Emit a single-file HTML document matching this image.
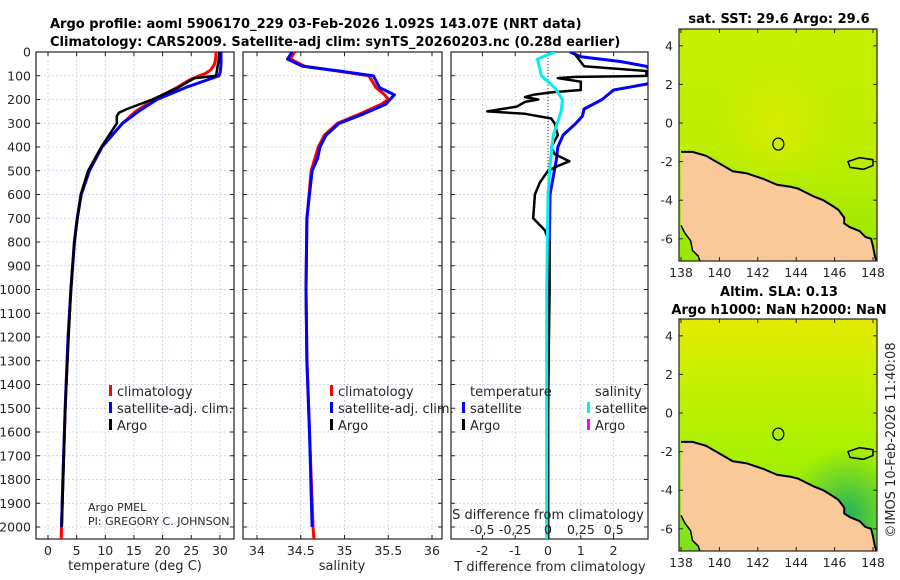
<!DOCTYPE html>
<html><head><meta charset="utf-8">
<style>
html,body{margin:0;padding:0;background:#fff;}
svg{display:block;font-family:"DejaVu Sans","Liberation Sans",sans-serif;}
</style></head>
<body>
<svg id="fig" width="900" height="580" viewBox="0 0 900 580" xmlns="http://www.w3.org/2000/svg">
<defs>
<clipPath id="c1"><rect x="36" y="52" width="198" height="487"/></clipPath>
<clipPath id="c2"><rect x="243" y="52" width="199" height="487"/></clipPath>
<clipPath id="c3"><rect x="451" y="52" width="197" height="487"/></clipPath>
<clipPath id="cm1"><rect x="679" y="29" width="198" height="232"/></clipPath>
<clipPath id="cm2"><rect x="679" y="319" width="198" height="232"/></clipPath>
<linearGradient id="sstg" x1="0" y1="0" x2="0" y2="1">
<stop offset="0" stop-color="#c6f000"/><stop offset="0.5" stop-color="#c0ee00"/><stop offset="1" stop-color="#96e800"/></linearGradient>
<radialGradient id="sstw" cx="0.5" cy="0.4" r="0.3"><stop offset="0" stop-color="#dcec00" stop-opacity="0.8"/><stop offset="1" stop-color="#dcec00" stop-opacity="0"/></radialGradient>
<linearGradient id="slag" x1="0" y1="0" x2="0" y2="1">
<stop offset="0" stop-color="#e4ea00"/><stop offset="0.25" stop-color="#c8f000"/><stop offset="0.6" stop-color="#a6f000"/><stop offset="1" stop-color="#80e020"/></linearGradient>
<radialGradient id="slad" cx="0.85" cy="0.85" r="0.3"><stop offset="0" stop-color="#20b060"/><stop offset="1" stop-color="#40c040" stop-opacity="0"/></radialGradient>
</defs>
<g id="root"></g>
</svg>
<script>
// ---- data ----
const depthT = [0,20,50,75,90,100,120,150,200,250,300,400,500,600,700,800,1000,1200,1500,1800,2000,2050];
const tempClim = [29.3,29.3,29.1,28.4,27.5,26.4,24.5,22.5,18.5,15.3,13.0,9.4,7.2,5.8,5.1,4.6,4.0,3.5,3.0,2.6,2.35,2.3];
const depthTS = [0,20,50,75,90,100,120,150,200,250,300,400,500,600,700,800,1000,1200,1500,1800,2000];
const tempSat = [30.2,30.2,30.2,30.1,30.0,29.8,27.5,24.0,19.0,15.8,13.0,9.4,7.2,5.8,5.1,4.6,4.0,3.5,3.0,2.6,2.35];
const depthA = [0,30,60,90,100,110,150,200,240,255,270,300,400,500,600,800,1000,1500,2000];
const tempArgo = [29.9,29.8,29.6,29.4,29.3,25.6,22.7,18.2,13.8,12.4,12.0,12.0,9.3,7.0,5.7,4.6,4.0,3.0,2.4];
const depthS = [0,30,60,80,100,150,180,200,220,260,300,350,400,450,500,700,1000,1300,1600,2000,2050];
const salClim = [34.43,34.38,34.55,34.92,35.28,35.36,35.46,35.50,35.42,35.18,34.92,34.77,34.7,34.66,34.62,34.57,34.56,34.57,34.6,34.64,34.65];
const depthSS2 = [0,30,60,80,100,150,180,200,220,260,300,350,400,450,500,700,1000,1300,1600,2000];
const salSat = [34.40,34.35,34.52,34.94,35.33,35.40,35.57,35.52,35.47,35.22,34.94,34.79,34.72,34.69,34.63,34.57,34.56,34.57,34.6,34.63];
const depthD = [0,20,40,60,100,130,160,200,240,270,300,350,400,450,600,1000,1500,2050];
const dTsat = [0.67,1.0,2.2,3.0,3.3,3.2,2.0,1.65,1.1,1.05,0.85,0.46,0.3,0.26,0.06,0.02,0.0,0.0];
const depthDA = [5,60,80,95,100,105,110,125,160,170,180,190,200,210,230,250,260,280,300,350,400,430,460,480,500,550,600,700,750,800,1000,1500,2050];
const dTargo = [0.8,1.1,3.0,3.0,3.3,0.85,0.3,1.0,1.0,0.1,-0.45,-0.7,-0.3,-0.7,-0.95,-1.85,-0.7,0.1,0.2,0.3,0.1,0.2,0.65,0.3,0.0,-0.25,-0.4,-0.45,-0.1,0.05,0.05,0.0,0.0];
const depthSS = [0,30,100,150,200,250,300,350,450,600,1000,1500,2050];
const dSsat = [0.05,-0.08,-0.05,0.05,0.11,0.1,0.07,0.04,0.02,0.0,-0.01,-0.01,-0.01];
const depthTicks = [0,100,200,300,400,500,600,700,800,900,1000,1100,1200,1300,1400,1500,1600,1700,1800,1900,2000];
const tTicks = [0,5,10,15,20,25,30];
const sTicks = [34,34.5,35,35.5,36];
const dtTicks = [-2,-1,0,1,2];
const dsTicks = [-0.5,-0.25,0,0.25,0.5];
const dsTickLabels = ["-0,5","-0,25","0","0,25","0,5"];
const lonTicks = [138,140,142,144,146,148];
const latTicks = [4,2,0,-2,-4,-6];

// ---- scales ----
const yD = d => 52 + d*0.2375;
const xT = t => 48 + t*5.73;
const xS = s => 257 + (s-34)*87.5;
const xDT = t => 548 + t*32.8;
const xDS = s => 548 + s*131.5;
const xLon = l => 681 + (l-138)*19.2;
const yLat1 = l => 123 - l*19.3;
const yLat2 = l => 413 - l*19.3;

const NS="http://www.w3.org/2000/svg";
const root=document.getElementById('root');
function el(tag,attrs,parent,txt){const e=document.createElementNS(NS,tag);for(const k in attrs)e.setAttribute(k,attrs[k]);if(txt!==undefined)e.textContent=txt;(parent||root).appendChild(e);return e;}

function panel(x0,x1,clip,xs,ticks,labels,name,showY){
  const g=el('g',{});
  
  
  el('rect',{x:x0,y:52,width:x1-x0,height:487,fill:'#fff'},g);
  depthTicks.forEach(d=>{el('line',{x1:x0,x2:x1,y1:yD(d),y2:yD(d),stroke:'#c8cce8','stroke-dasharray':'2,2','stroke-width':0.8},g);
    el('line',{x1:x0,x2:x0+4,y1:yD(d),y2:yD(d),stroke:'#222'},g);el('line',{x1:x1-4,x2:x1,y1:yD(d),y2:yD(d),stroke:'#222'},g);});
  ticks.forEach((t,i)=>{const x=xs(t);el('line',{x1:x,x2:x,y1:52,y2:539,stroke:'#c8cce8','stroke-dasharray':'2,2','stroke-width':0.8},g);
    el('line',{x1:x,x2:x,y1:535,y2:539,stroke:'#222'},g);el('line',{x1:x,x2:x,y1:52,y2:56,stroke:'#222'},g);
    const tl=el('text',{x:x,y:555,'font-size':12.5,'text-anchor':'middle',fill:'#262626'},g,labels[i]);
    
    });
  el('rect',{x:x0,y:52,width:x1-x0,height:487,fill:'none',stroke:'#222','stroke-width':1.2},g);
  if(showY){depthTicks.forEach(d=>{const t=el('text',{x:31,y:yD(d)+4.5,'font-size':12.5,'text-anchor':'end',fill:'#262626'},g,String(d));
    
    });}
  return g;
}
function line(xs,ys,fx,col,w,clip,name){
  const pts=xs.map((v,i)=>fx(v).toFixed(1)+','+yD(ys[i]).toFixed(1)).join(' ');
  const p=el('polyline',{points:pts,fill:'none',stroke:col,'stroke-width':w,'stroke-linejoin':'round','clip-path':'url(#'+clip+')'});
  
  
  return p;
}
function txt(x,y,s,size,opts,name){const t=el('text',Object.assign({x:x,y:y,'font-size':size,fill:'#262626'},opts||{}),root,s);
  
  return t;}

// titles
txt(50,28,'Argo profile: aoml 5906170_229 03-Feb-2026 1.092S 143.07E (NRT data)',13,{'font-weight':'bold',fill:'#000'},'title-line-1');
txt(50,46,'Climatology: CARS2009. Satellite-adj clim: synTS_20260203.nc (0.28d earlier)',13,{'font-weight':'bold',fill:'#000'},'title-line-2');

// panel 1
panel(36,234,'c1',xT,tTicks,tTicks.map(String),'temperature-panel',true);
line(tempClim,depthT,xT,'#ff0000',3,'c1','temp-climatology-line');
line(tempSat,depthTS,xT,'#0000ff',3,'c1','temp-satellite-line');
line(tempArgo,depthA,xT,'#000',2.5,'c1','temp-argo-line');
txt(135,570,'temperature (deg C)',13,{'text-anchor':'middle'},'x-axis-title-temperature');
txt(88,511,'Argo PMEL',11,{},'argo-pmel-note');
txt(88,525,'PI: GREGORY C. JOHNSON',11,{},'pi-note');

// panel 2
panel(243,442,'c2',xS,sTicks,sTicks.map(String),'salinity-panel',false);
line(salClim,depthS,xS,'#ff0000',3,'c2','sal-climatology-line');
line(salSat,depthSS2,xS,'#0000ff',3,'c2','sal-satellite-line');
txt(342,570,'salinity',13,{'text-anchor':'middle'},'x-axis-title-salinity');

// panel 3
panel(451,648,'c3',xDT,dtTicks,dtTicks.map(String),'difference-panel',false);
el('line',{x1:548,x2:548,y1:52,y2:539,stroke:'#333','stroke-dasharray':'1,2','stroke-width':1});
line(dTsat,depthD,xDT,'#0000ff',3,'c3','dt-satellite-line');
line(dTargo,depthDA,xDT,'#000',2.5,'c3','dt-argo-line');
line(dSsat,depthSS,xDS,'#00f0f0',3,'c3','ds-satellite-line');
txt(548,519,'S difference from climatology',13,{'text-anchor':'middle'},'s-axis-title');
dsTicks.forEach((s,i)=>{txt(xDS(s),534,dsTickLabels[i],12.5,{'text-anchor':'middle'},'s-tick-label');});
txt(550,571,'T difference from climatology',13,{'text-anchor':'middle'},'x-axis-title-tdiff');

// legends
function legItem(mx,y,col,label,name){const r=el('rect',{x:mx,y:y-11,width:3,height:11,fill:col});
  
  
  txt(mx+8,y,label,13,{},name);}
legItem(109,396,'#ff0000','climatology','legend-climatology');
legItem(109,413,'#0000ff','satellite-adj. clim.','legend-satellite-adj');
legItem(109,430,'#000','Argo','legend-argo');
legItem(330,396,'#ff0000','climatology','legend2-climatology');
legItem(330,413,'#0000ff','satellite-adj. clim.','legend2-satellite-adj');
legItem(330,430,'#000','Argo','legend2-argo');
txt(470,396,'temperature',13,{},'legend-temperature-header');
legItem(462,413,'#0000ff','satellite','legend-t-satellite');
legItem(462,430,'#000','Argo','legend-t-argo');
txt(595,396,'salinity',13,{},'legend-salinity-header');
legItem(587,413,'#00f0f0','satellite','legend-s-satellite');
legItem(587,430,'#ff00ff','Argo','legend-s-argo');

// maps
const coast=[[138,-1.5],[138.6,-1.5],[139.3,-1.7],[140,-2.1],[140.7,-2.5],[141.4,-2.6],[142.3,-2.9],[143,-3.2],[143.7,-3.3],[144.1,-3.4],[144.5,-3.6],[144.9,-3.8],[145.4,-4.0],[145.9,-4.3],[146.2,-4.5],[146.5,-4.9],[146.5,-5.2],[146.8,-5.4],[147.3,-5.6],[147.6,-5.9],[147.9,-6.0],[148.0,-6.4],[148.1,-6.9],[148.2,-7.2]];
const coastSW=[[138,-5.3],[138.2,-5.7],[138.5,-6.1],[138.6,-6.6],[138.9,-6.9],[139.0,-7.2]];
const islandPts=[[146.7,-2.0],[147.3,-1.8],[148.0,-1.9],[148.0,-2.2],[147.5,-2.4],[146.8,-2.3]];
function map(yLat,clip,fillId,overlay,name,y0){
  const g=el('g',{'clip-path':'url(#'+clip+')'});
  
  
  el('rect',{x:679,y:y0,width:198,height:232,fill:'url(#'+fillId+')'},g);
  el('rect',{x:679,y:y0,width:198,height:232,fill:'url(#'+overlay+')'},g);
  const land=coast.map(p=>xLon(p[0]).toFixed(1)+','+yLat(p[1]).toFixed(1));
  const sw=coastSW.map(p=>xLon(p[0]).toFixed(1)+','+yLat(p[1]).toFixed(1));
  el('polygon',{points:land.join(' ')+' '+sw.slice().reverse().join(' '),fill:'#fac999',stroke:'none'},g);
  el('polyline',{points:land.join(' '),fill:'none',stroke:'#000','stroke-width':2},g);
  el('polyline',{points:sw.join(' '),fill:'none',stroke:'#000','stroke-width':1.5},g);
  el('polygon',{points:islandPts.map(p=>xLon(p[0]).toFixed(1)+','+yLat(p[1]).toFixed(1)).join(' '),fill:'none',stroke:'#000','stroke-width':1.5},g);
  el('ellipse',{cx:xLon(143.07),cy:yLat(-1.092),rx:5.5,ry:6,fill:'none',stroke:'#000','stroke-width':1.2},g);
  el('rect',{x:679,y:y0,width:198,height:232,fill:'none',stroke:'#222','stroke-width':1.2});
  lonTicks.forEach(l=>{el('line',{x1:xLon(l),x2:xLon(l),y1:y0+232,y2:y0+228,stroke:'#222'});el('line',{x1:xLon(l),x2:xLon(l),y1:y0,y2:y0+4,stroke:'#222'});
    txt(xLon(l),y0+248,String(l),12.5,{'text-anchor':'middle'},'lon-tick-label');});
  latTicks.forEach(l=>{el('line',{x1:679,x2:683,y1:yLat(l),y2:yLat(l),stroke:'#222'});el('line',{x1:873,x2:877,y1:yLat(l),y2:yLat(l),stroke:'#222'});
    txt(673,yLat(l)+4.5,String(l),12.5,{'text-anchor':'end'},'lat-tick-label');});
}
map(yLat1,'cm1','sstg','sstw','sst-map',29);
map(yLat2,'cm2','slag','slad','sla-map',319);
txt(779,23,'sat. SST: 29.6 Argo: 29.6',13,{'text-anchor':'middle','font-weight':'bold',fill:'#000'},'sst-map-title');
txt(779,296,'Altim. SLA: 0.13',13,{'text-anchor':'middle','font-weight':'bold',fill:'#000'},'sla-map-title-1');
txt(779,314,'Argo h1000: NaN h2000: NaN',13,{'text-anchor':'middle','font-weight':'bold',fill:'#000'},'sla-map-title-2');
txt(0,0,'©IMOS 10-Feb-2026 11:40:08',13,{'text-anchor':'middle',transform:'translate(895,440) rotate(-90)'},'imos-timestamp');
</script>
</body></html>
